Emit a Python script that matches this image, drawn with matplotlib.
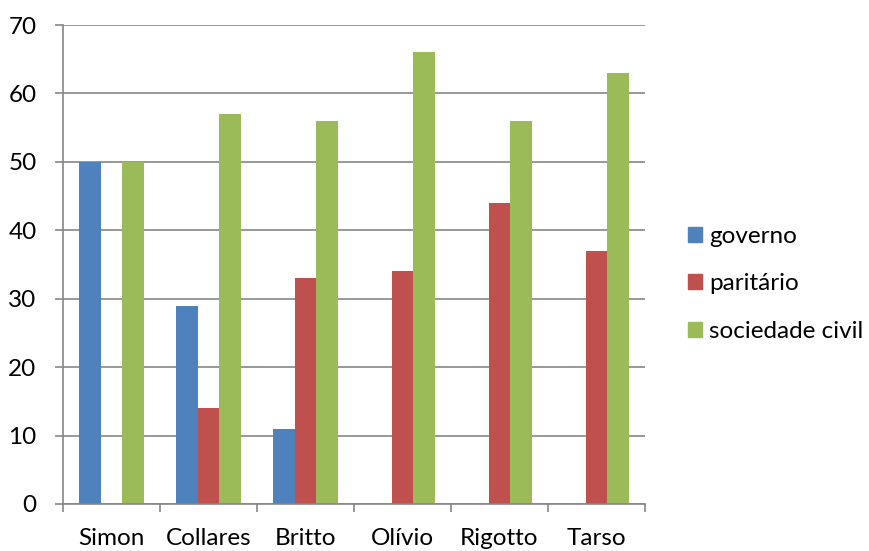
import numpy as np
import matplotlib.pyplot as plt
from matplotlib.patches import Patch

candidatos = ["Simon", "Collares", "Britto", "Olívio", "Rigotto", "Tarso"]
governo = [50, 29, 11, 0, 0, 0]
paritario = [0, 14, 33, 34, 44, 37]
sociedade_civil = [50, 57, 56, 66, 56, 63]

series = [
    ("governo", governo, "#4F81BD"),
    ("paritário", paritario, "#C0504D"),
    ("sociedade civil", sociedade_civil, "#9BBB59"),
]

plt.rcParams["font.family"] = ["Lato", "DejaVu Sans"]
grid_color = "#868686"
fs = 17.5

fig = plt.figure(figsize=(8.69, 5.51), dpi=100)
ax = fig.add_axes([63 / 869, 47 / 551, (645 - 63) / 869, (504 - 25) / 551])

x = np.arange(len(candidatos))
width = 0.222
for i, (label, values, color) in enumerate(series):
    ax.bar(x + (i - 1) * width, values, width, color=color, label=label, zorder=3)

ax.set_xlim(-0.5, len(candidatos) - 0.5)
ax.set_ylim(0, 70)
ax.set_yticks(range(0, 71, 10))
ax.yaxis.grid(True, color=grid_color, linewidth=1.2, zorder=0)

# category boundaries carry the tick marks, names sit between them
ax.set_xticks(np.arange(-0.5, len(candidatos), 1.0))
ax.set_xticklabels([])
ax.set_xticks(x, minor=True)
ax.set_xticklabels(candidatos, minor=True)
ax.tick_params(axis="x", which="major", direction="out", length=6, width=1.2, color=grid_color)
ax.tick_params(axis="x", which="minor", length=0, pad=17, labelsize=fs)
ax.tick_params(axis="y", direction="out", length=6, width=1.2, color=grid_color, pad=13, labelsize=fs)

for side in ["top", "right"]:
    ax.spines[side].set_visible(False)
for side in ["left", "bottom"]:
    ax.spines[side].set_color(grid_color)
    ax.spines[side].set_linewidth(1.2)
    ax.spines[side].set_zorder(4)

handles = [Patch(color=c, label=l) for l, _, c in series]
fig.legend(
    handles=handles,
    loc="center left",
    bbox_to_anchor=(688 / 869, (551 - 284) / 551),
    frameon=False,
    fontsize=fs,
    handlelength=0.58,
    handleheight=0.58,
    handletextpad=0.29,
    labelspacing=1.1,
    borderpad=0,
    borderaxespad=0,
)

fig.savefig("out.png", dpi=100)
